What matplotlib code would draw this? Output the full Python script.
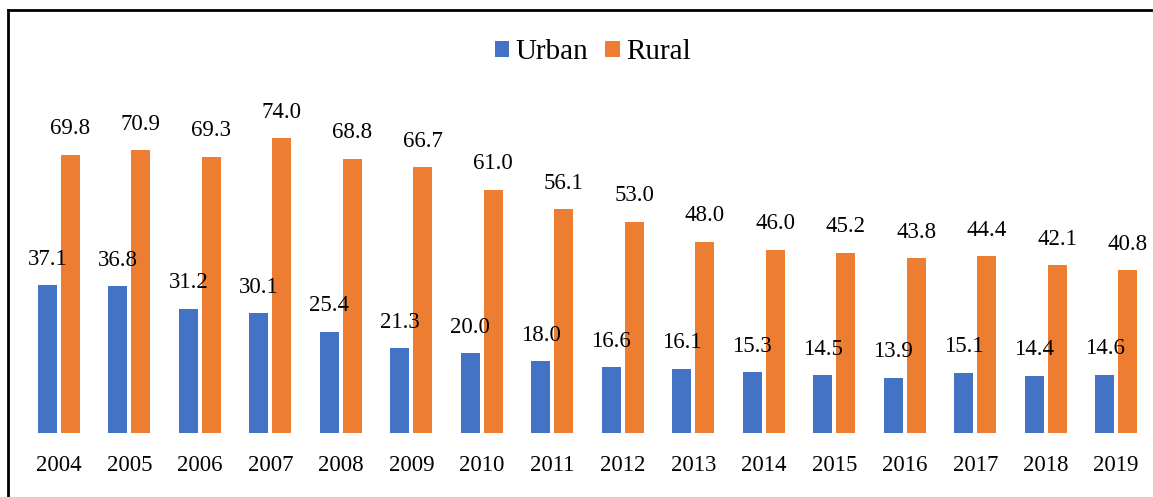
import numpy as np
import matplotlib
matplotlib.use("Agg")
import matplotlib.pyplot as plt
from matplotlib.lines import Line2D

# Data
years = ["2004", "2005", "2006", "2007", "2008", "2009", "2010", "2011",
         "2012", "2013", "2014", "2015", "2016", "2017", "2018", "2019"]
urban = [37.1, 36.8, 31.2, 30.1, 25.4, 21.3, 20.0, 18.0,
         16.6, 16.1, 15.3, 14.5, 13.9, 15.1, 14.4, 14.6]
rural = [69.8, 70.9, 69.3, 74.0, 68.8, 66.7, 61.0, 56.1,
         53.0, 48.0, 46.0, 45.2, 43.8, 44.4, 42.1, 40.8]

BLUE = "#4472C4"
ORANGE = "#ED7D31"

plt.rcParams["font.family"] = ["Liberation Serif", "DejaVu Serif"]

fig = plt.figure(figsize=(11.53, 4.97), dpi=100)
ax = fig.add_axes([0.0206, 0.1288, 0.978, 0.642])

x = np.arange(len(years))
w = 0.27
off = 0.163
b1 = ax.bar(x - off, urban, w, color=BLUE, label="Urban")
b2 = ax.bar(x + off, rural, w, color=ORANGE, label="Rural")

ax.bar_label(b1, labels=[f"{v:.1f}" for v in urban], padding=11, fontsize=16.5)
ax.bar_label(b2, labels=[f"{v:.1f}" for v in rural], padding=11, fontsize=16.5)

ax.set_xlim(-0.5, len(years) - 0.5)
ax.set_ylim(0, 80)
ax.set_xticks(x)
ax.set_xticklabels(years, fontsize=16.5)
ax.tick_params(axis="x", length=0, pad=16)
ax.set_yticks([])
for s in ax.spines.values():
    s.set_visible(False)

fig.legend(handles=[b1, b2], loc="center", bbox_to_anchor=(0.514, 0.895),
           ncol=2, frameon=False, fontsize=21, handlelength=0.5,
           handleheight=0.5, handletextpad=0.2, columnspacing=0.6)

# outer frame (top and left edges)
fig.add_artist(Line2D([8 / 1153, 1.0], [1 - 10 / 497, 1 - 10 / 497],
                      color="black", lw=2, transform=fig.transFigure))
fig.add_artist(Line2D([8 / 1153, 8 / 1153], [0, 1 - 10 / 497],
                      color="black", lw=2, transform=fig.transFigure))

fig.savefig("out.png", dpi=100)
